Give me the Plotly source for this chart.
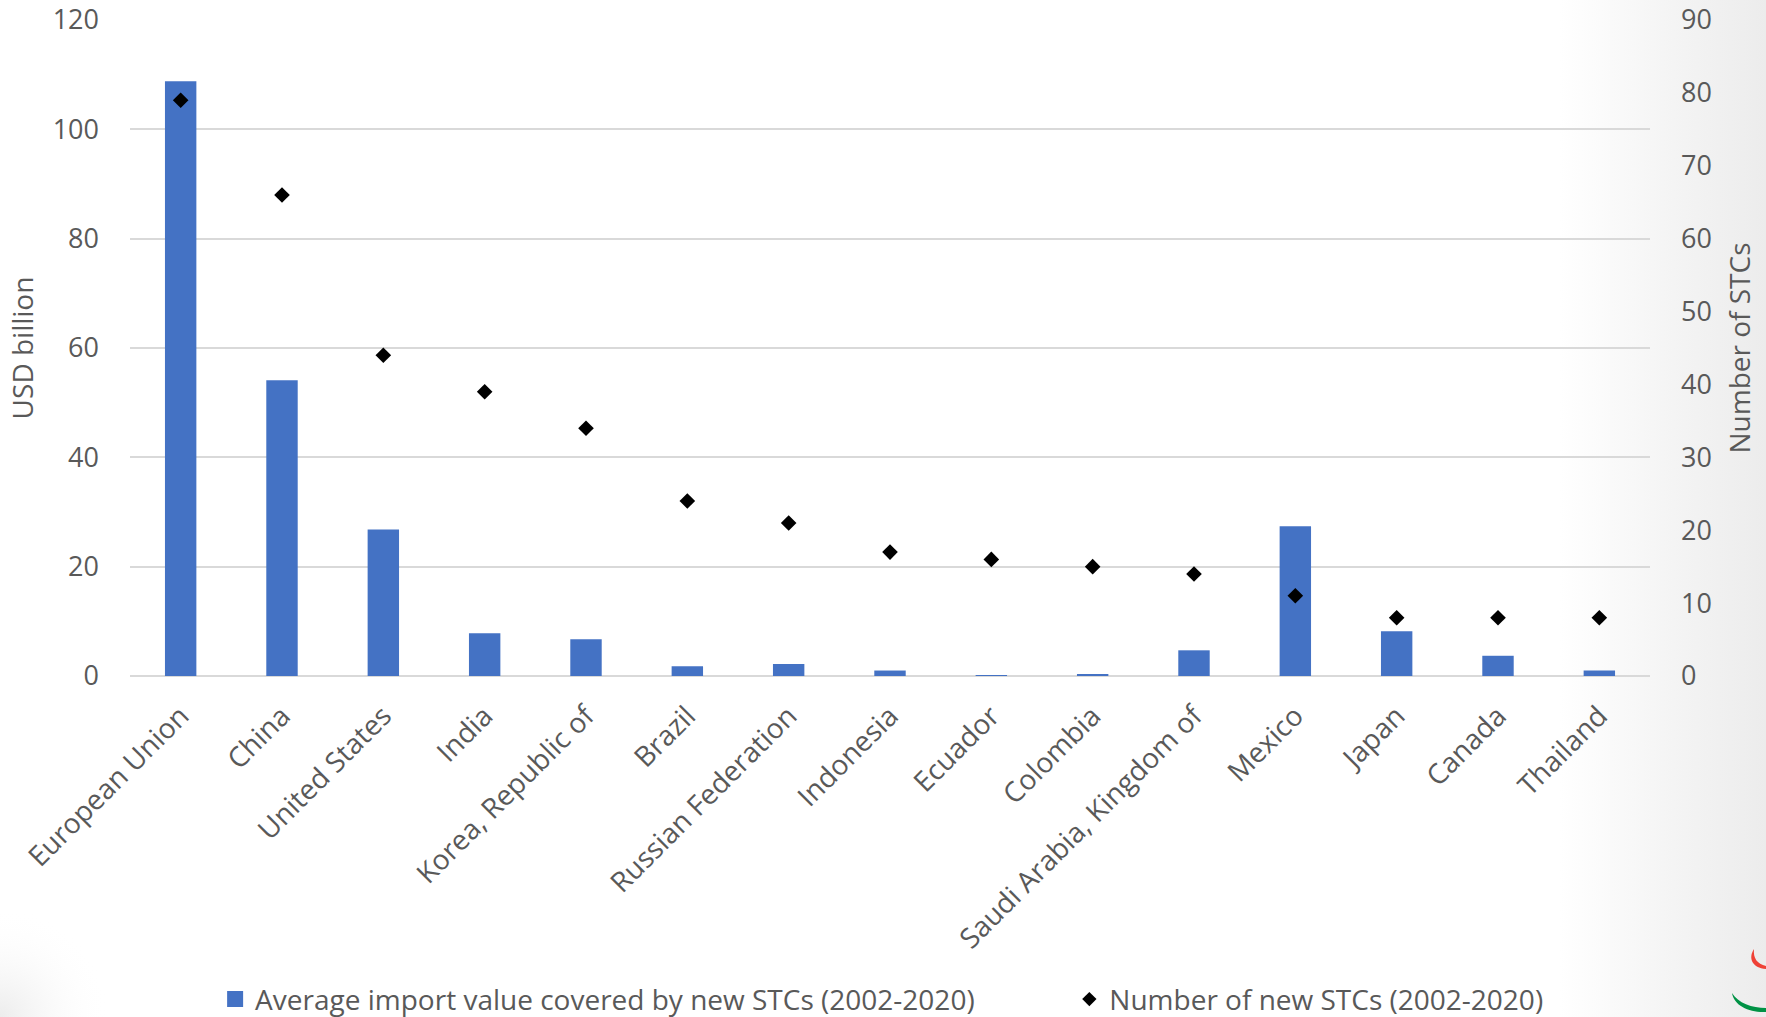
import base64
import plotly.graph_objects as go

# Members applying new specific trade concerns, 2002-2020
countries = [
    "European Union", "China", "United States", "India", "Korea, Republic of",
    "Brazil", "Russian Federation", "Indonesia", "Ecuador", "Colombia",
    "Saudi Arabia, Kingdom of", "Mexico", "Japan", "Canada", "Thailand",
]
# Average import value covered by new STCs (USD billion)
import_value = [108.8, 54.1, 26.8, 7.8, 6.7, 1.8, 2.2, 1.0, 0.1, 0.2, 4.7, 27.4, 8.2, 3.7, 1.0]
# Number of new STCs
stc_count = [79, 66, 44, 39, 34, 24, 21, 17, 16, 15, 14, 11, 8, 8, 8]

left_ticks = [0, 20, 40, 60, 80, 100, 120]
right_ticks = [0, 10, 20, 30, 40, 50, 60, 70, 80, 90]

BAR_NAME = "Average import value covered by new STCs (2002-2020)"
DOT_NAME = "Number of new STCs (2002-2020)"

FONT = "Open Sans"
GREY = "#595959"
BLUE = "#4472C4"

W, H = 1766, 1017
ML, MR, MT, MB = 130, 116, 20, 341
PW, PH = W - ML - MR, H - MT - MB

# Slide backdrop: soft grey fade on the right and bottom-left, plus logo arcs
backdrop_svg = f"""<svg xmlns='http://www.w3.org/2000/svg' width='{W}' height='{H}' viewBox='0 0 {W} {H}'>
<defs>
<linearGradient id='r' x1='1560' y1='0' x2='{W}' y2='0' gradientUnits='userSpaceOnUse'>
<stop offset='0' stop-color='#ffffff'/><stop offset='0.55' stop-color='#f4f4f4'/><stop offset='1' stop-color='#ececec'/>
</linearGradient>
<radialGradient id='bl' cx='0' cy='{H}' r='110' gradientUnits='userSpaceOnUse'>
<stop offset='0' stop-color='#ececec'/><stop offset='1' stop-color='#ffffff' stop-opacity='0'/>
</radialGradient>
</defs>
<rect width='{W}' height='{H}' fill='#ffffff'/>
<rect x='1560' width='{W-1560}' height='{H}' fill='url(#r)'/>
<rect y='{H-140}' width='140' height='140' fill='url(#bl)'/>
<path d='M1754,949 C1748,958 1752,968 1766,969 L1766,966 C1757,964 1753,958 1754,949 Z' fill='#ef4136'/>
<path d='M1732,993 C1734,1006 1750,1013 1766,1012 L1766,1008 C1752,1008 1738,1003 1732,993 Z' fill='#009245'/>
</svg>"""
backdrop_uri = "data:image/svg+xml;base64," + base64.b64encode(backdrop_svg.encode()).decode()

fig = go.Figure()
fig.add_trace(go.Bar(
    x=countries, y=import_value,
    name=BAR_NAME, showlegend=False,
    marker=dict(color=BLUE, line=dict(width=0)),
    width=0.31,
    yaxis="y",
))
fig.add_trace(go.Scatter(
    x=countries, y=stc_count,
    name=DOT_NAME, showlegend=False,
    mode="markers",
    marker=dict(symbol="diamond", color="black", size=12),
    yaxis="y2",
))
# Legend entries, one legend box each
fig.add_trace(go.Scatter(
    x=[None], y=[None], name=BAR_NAME, mode="markers", legend="legend",
    marker=dict(symbol="square", color=BLUE, size=18),
))
fig.add_trace(go.Scatter(
    x=[None], y=[None], name=DOT_NAME, mode="markers", legend="legend2",
    marker=dict(symbol="diamond", color="black", size=11),
))

legend_style = dict(
    orientation="h", xanchor="left", y=-0.493, yanchor="middle",
    font=dict(size=28, color=GREY), itemsizing="trace",
    bgcolor="rgba(0,0,0,0)", itemwidth=30,
)

fig.update_layout(
    width=W, height=H,
    margin=dict(l=ML, r=MR, t=MT, b=MB, autoexpand=False),
    paper_bgcolor="white", plot_bgcolor="rgba(0,0,0,0)",
    font=dict(family=FONT, color=GREY, size=28),
    showlegend=True,
    images=[dict(
        source=backdrop_uri, xref="paper", yref="paper",
        x=-ML / PW, y=1 + MT / PH, sizex=W / PW, sizey=H / PH,
        xanchor="left", yanchor="top", sizing="stretch", layer="below",
    )],
    legend=dict(x=0.056, **legend_style),
    legend2=dict(x=0.618, **legend_style),
    xaxis=dict(
        range=[-0.5, len(countries) - 0.5],
        tickangle=-45, tickfont=dict(size=28, color=GREY),
        showgrid=False, showline=False, ticks="", ticklabelstandoff=17,
    ),
    yaxis=dict(
        range=[0, 120], tickvals=left_ticks, showgrid=True,
        gridcolor="#d9d9d9", gridwidth=2, zeroline=True, zerolinecolor="#d9d9d9",
        zerolinewidth=2, showline=False, ticks="", ticklabelstandoff=30,
        tickfont=dict(size=27, color=GREY),
        title=dict(text="USD billion", font=dict(size=28, color=GREY), standoff=10),
    ),
    yaxis2=dict(
        range=[0, 90], tickvals=right_ticks, overlaying="y", side="right",
        showgrid=False, zeroline=False, showline=False, ticks="",
        ticklabelstandoff=30, tickfont=dict(size=27, color=GREY),
        title=dict(text="Number of STCs", font=dict(size=28, color=GREY), standoff=19),
    ),
)

fig.write_html("out.html")
